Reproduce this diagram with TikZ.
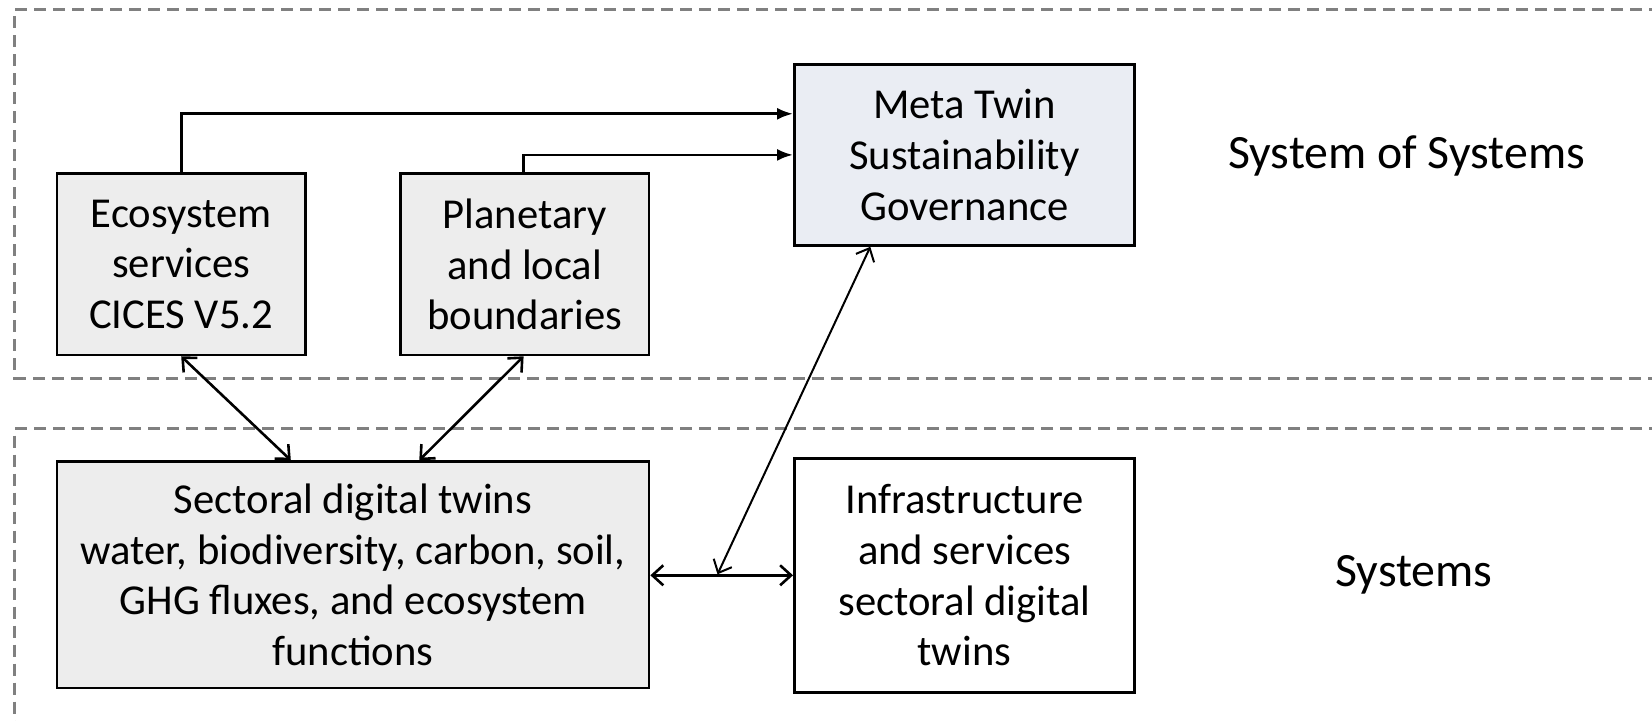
\documentclass[tikz,border=0pt]{standalone}
\usepackage{fontspec}
\setmainfont{Carlito}
\usetikzlibrary{arrows.meta}
\definecolor{boxgray}{HTML}{EDEDED}
\definecolor{metafill}{HTML}{EAEDF3}
\definecolor{dashgray}{HTML}{808080}
\tikzset{
  boxnode/.style={draw=black, line width=2.6bp, align=center, inner sep=0pt, font=\fontsize{42.8}{51}\selectfont},
  tierlabel/.style={font=\fontsize{48}{52}\selectfont},
  region/.style={draw=dashgray, line width=3bp, dash pattern=on 12bp off 7bp},
  flow/.style={line width=2.8bp, -{Latex[length=16bp,width=12bp]}},
  twoway/.style={line width=2.6bp, {Straight Barb[length=11bp,width=20bp]}-{Straight Barb[length=11bp,width=20bp]}},
  thinway/.style={line width=2bp, {Straight Barb[length=11bp,width=20bp]}-{Straight Barb[length=11bp,width=20bp]}}
}
\begin{document}
\begin{tikzpicture}[x=1bp,y=-1bp]
\useasboundingbox (0,0) rectangle (1652,721);
\clip (0,0) rectangle (1652,721);
\fill[white] (0,0) rectangle (1652,721);
% regions
\draw[region] (1680,9.5) -- (14.75,9.5) -- (14.75,378) -- (1680,378);
\draw[region] (1680,428.8) -- (14.75,428.8) -- (14.75,740);
% boxes
\node[boxnode, fill=boxgray, minimum width=248.6bp, minimum height=181.2bp] (eco) at (181.2,264.4) {Ecosystem\\services\\CICES V5.2};
\node[boxnode, fill=boxgray, minimum width=248.6bp, minimum height=181.2bp] (plan) at (524.7,264.4) {Planetary\\and local\\boundaries};
\node[boxnode, fill=metafill, minimum width=340.3bp, minimum height=181.2bp] (meta) at (964.5,154.9) {Meta Twin\\Sustainability\\Governance};
\node[boxnode, fill=boxgray, minimum width=592.1bp, minimum height=226.5bp] (sect) at (353,574.8) {Sectoral digital twins\\water, biodiversity, carbon, soil,\\GHG fluxes, and ecosystem\\functions};
\node[boxnode, fill=white, minimum width=340.3bp, minimum height=233.9bp] (infra) at (964.5,575.3) {Infrastructure\\and services\\sectoral digital\\twins};
% labels
\node[tierlabel] (sos) at (1406.6,155.9) {System of Systems};
\node[tierlabel] (sys) at (1414,575.3) {Systems};
% connectors
\draw[flow] (eco.north) |- ([yshift=41.1bp]meta.west);
\draw[flow] ([xshift=-1.1bp]plan.north) |- (meta.west);
\draw[twoway] (eco.south) -- ([xshift=-62.2bp]sect.north);
\draw[twoway] ([xshift=-1.1bp]plan.south) -- ([xshift=66.3bp]sect.north);
\draw[twoway] (sect.east |- infra.west) -- (infra.west);
\coordinate (mid) at (717.5,575.3);
\draw[thinway] ([yshift=1bp]mid) -- ([xshift=-94.2bp]meta.south);
\end{tikzpicture}
\end{document}
